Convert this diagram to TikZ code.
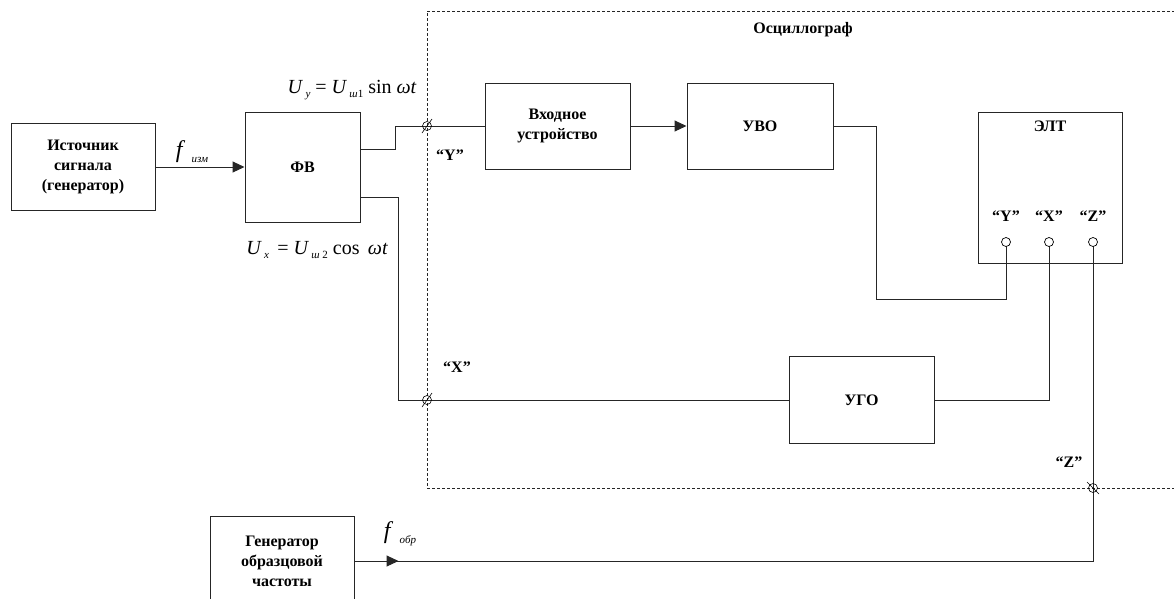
\documentclass[tikz,border=0pt]{standalone}
\usepackage{fontspec}
\setmainfont{Liberation Serif}
\usetikzlibrary{arrows.meta}
\tikzset{
  blk/.style={draw=black!85, line width=1pt, fill=white, align=center, inner sep=0pt,
    font=\bfseries\fontsize{16}{20}\selectfont},
  wire/.style={draw=black!85, line width=1pt},
  arr/.style={wire, -{Triangle[length=12pt,width=11pt]}},
  lbl/.style={font=\bfseries\fontsize{16}{18}\selectfont, inner sep=0pt},
  mlbl/.style={font=\fontsize{20}{20}\selectfont, inner sep=0pt},
  pin/.style={circle, draw=black, line width=0.7pt, fill=white, minimum size=9pt, inner sep=0pt}
}
\newcommand{\sbs}[1]{\raisebox{-0.45ex}{\fontsize{11}{11}\selectfont\itshape #1}}
\begin{document}
\begin{tikzpicture}[x=1pt,y=-1pt]
\useasboundingbox (0,0) rectangle (1174,598);
\clip (0,0) rectangle (1174,598);
% oscillograph frame
\draw[black!85, line width=0.7pt, dash pattern=on 3pt off 2pt] (1190,11) -- (427,11) -- (427,488) -- (1190,488);
\node[lbl] (osc) at (803,30) {Осциллограф};
% blocks
\node[blk, minimum width=144pt, minimum height=87pt] (src) at (83,167) {Источник\\сигнала\\(генератор)};
\node[blk, minimum width=115pt, minimum height=110pt] (fv) at (302.5,167) {ФВ};
\node[blk, minimum width=145pt, minimum height=86pt] (inp) at (557.5,126) {Входное\\устройство};
\node[blk, minimum width=146pt, minimum height=86pt] (uvo) at (760,126) {УВО};
\node[blk, minimum width=144pt, minimum height=151pt] (elt) at (1050,187.5) {};
\node[lbl] (eltl) at (1050,126) {ЭЛТ};
\node[blk, minimum width=145pt, minimum height=87pt] (ugo) at (861.5,400) {УГО};
\node[blk, minimum width=144pt, minimum height=90pt] (gen) at (282,561) {Генератор\\образцовой\\частоты};
% CRT inputs
\node[lbl] (ly) at (1006,216) {“Y”};
\node[lbl] (lx) at (1049,216) {“X”};
\node[lbl] (lz) at (1093,216) {“Z”};
\coordinate (tY) at (427,126);
\coordinate (tX) at (427,400);
\coordinate (tZ) at (1093,488);
\node[lbl] (tYl) at (450,155) {“Y”};
\node[lbl] (tXl) at (457,367) {“X”};
\node[lbl] (tZl) at (1069,462) {“Z”};
% connectors
\draw[arr] (src.east) -- (fv.west);
\draw[wire] ([yshift=18pt]fv.east) -- ++(35,0) |- (inp.west);
\draw[arr] (inp.east) -- (uvo.west);
\coordinate (yb) at (876,299);
\coordinate (pY) at (1006,242);
\coordinate (pX) at (1049,242);
\coordinate (pZ) at (1093,242);
\draw[wire] (uvo.east) -| (yb) -| (pY);
\draw[wire] ([yshift=-30pt]fv.east) -- ++(38,0) |- (ugo.west);
\draw[wire] (ugo.east) -| (pX);
\draw[arr] (gen.east) -- ++(44,0);
\draw[wire] (gen.east) -| (pZ);
% CRT pins
\node[pin] (cY) at (pY) {};
\node[pin] (cX) at (pX) {};
\node[pin] (cZ) at (pZ) {};
% terminals on the frame
\draw[black, line width=0.6pt] (tY) circle[radius=4.5pt] (tX) circle[radius=4.5pt] (tZ) circle[radius=4.5pt];
\draw[black, line width=0.6pt] ([shift={(-5pt,-7pt)}]tY) -- ([shift={(5pt,7pt)}]tY);
\draw[black, line width=0.6pt] ([shift={(-5pt,-7pt)}]tX) -- ([shift={(5pt,7pt)}]tX);
\draw[black, line width=0.6pt] ([shift={(-6pt,6pt)}]tZ) -- ([shift={(6pt,-6pt)}]tZ);
% math labels
\node[mlbl] (uy) at (352,90) {\itshape U\upshape\,\sbs{y} = \itshape U\upshape\,\sbs{ш\upshape 1} sin \itshape ωt};
\node[mlbl] (ux) at (317,250) {\itshape U\upshape\,\sbs{x}\, = \itshape U\upshape\,\sbs{ш \upshape 2} cos \,\itshape ωt};
\node[mlbl, font=\fontsize{24}{24}\selectfont] (fizm) at (192,152) {\itshape f\hspace{9pt}\sbs{изм}};
\node[mlbl, font=\fontsize{24}{24}\selectfont] (fobr) at (400,534) {\itshape f\hspace{9pt}\sbs{обр}};
\end{tikzpicture}
\end{document}
